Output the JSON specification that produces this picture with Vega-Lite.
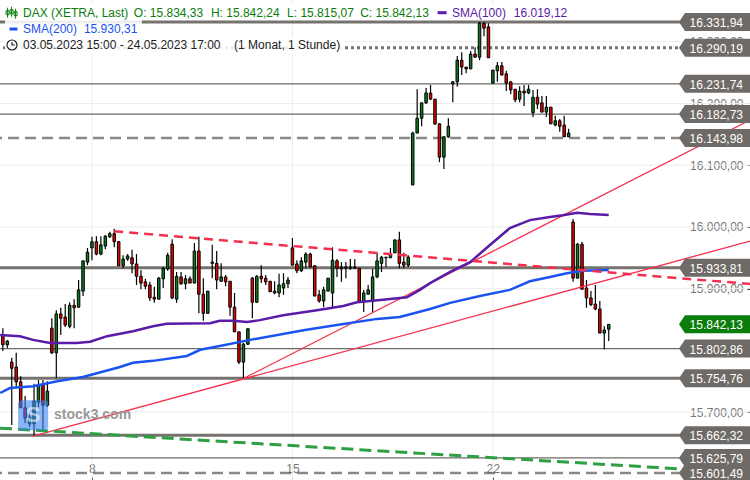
{
"$schema":"https://vega.github.io/schema/vega-lite/v6.json",
"width":750,"height":480,"padding":0,"autosize":{"type":"none"},
"background":"white",
"config":{"view":{"stroke":null},"text":{"font":"Liberation Sans","fontSize":12},"axis":{"labelFont":"Liberation Sans"}},
"data":{"values":[{}]},
"datasets":{
"grid":[{"g":15700},{"g":15900},{"g":16000},{"g":16100},{"g":16200},{"g":16300}],
"days":[{"d":21},{"d":66},{"d":111}],
"levels":[
{"level":16331.94,"label":"16.331,94","kind":"heavy"},
{"level":16290.19,"label":"16.290,19","kind":"dotted"},
{"level":16231.74,"label":"16.231,74","kind":"thin"},
{"level":16182.73,"label":"16.182,73","kind":"thin"},
{"level":16143.98,"label":"16.143,98","kind":"dashed"},
{"level":15933.81,"label":"15.933,81","kind":"heavy"},
{"level":15842.13,"label":"15.842,13","kind":"last"},
{"level":15802.86,"label":"15.802,86","kind":"thin"},
{"level":15754.76,"label":"15.754,76","kind":"heavy"},
{"level":15662.32,"label":"15.662,32","kind":"heavy"},
{"level":15625.79,"label":"15.625,79","kind":"thin"},
{"level":15601.49,"label":"15.601,49","kind":"dashed"}],
"candles":[
{"t":1,"open":15825,"high":15836,"low":15799,"close":15809},
{"t":2,"open":15809,"high":15817,"low":15804,"close":15815},
{"t":3,"open":15781,"high":15788,"low":15679,"close":15771},
{"t":4,"open":15773,"high":15796,"low":15741,"close":15749},
{"t":5,"open":15749,"high":15758,"low":15707,"close":15707},
{"t":6,"open":15707,"high":15726,"low":15682,"close":15690},
{"t":7,"open":15681,"high":15700,"low":15676,"close":15692},
{"t":8,"open":15681,"high":15746,"low":15661,"close":15718},
{"t":9,"open":15716,"high":15752,"low":15708,"close":15744},
{"t":10,"open":15744,"high":15752,"low":15671,"close":15711},
{"t":11,"open":15711,"high":15750,"low":15708,"close":15734},
{"t":12,"open":15836,"high":15852,"low":15794,"close":15796},
{"t":13,"open":15796,"high":15865,"low":15755,"close":15859},
{"t":14,"open":15859,"high":15869,"low":15825,"close":15852},
{"t":15,"open":15854,"high":15875,"low":15838,"close":15841},
{"t":16,"open":15839,"high":15878,"low":15836,"close":15873},
{"t":17,"open":15873,"high":15883,"low":15836,"close":15869},
{"t":18,"open":15870,"high":15914,"low":15869,"close":15898},
{"t":19,"open":15896,"high":15945,"low":15888,"close":15945},
{"t":20,"open":15943,"high":15966,"low":15938,"close":15959},
{"t":21,"open":15966,"high":15984,"low":15946,"close":15976},
{"t":22,"open":15976,"high":15985,"low":15954,"close":15956},
{"t":23,"open":15956,"high":15985,"low":15954,"close":15971},
{"t":24,"open":15969,"high":15987,"low":15964,"close":15985},
{"t":25,"open":15984,"high":15992,"low":15982,"close":15989},
{"t":26,"open":15989,"high":15997,"low":15967,"close":15976},
{"t":27,"open":15976,"high":15977,"low":15937,"close":15937},
{"t":28,"open":15937,"high":15954,"low":15933,"close":15948},
{"t":29,"open":15948,"high":15956,"low":15945,"close":15953},
{"t":30,"open":15950,"high":15963,"low":15925,"close":15940},
{"t":31,"open":15940,"high":15956,"low":15906,"close":15920},
{"t":32,"open":15920,"high":15930,"low":15899,"close":15909},
{"t":33,"open":15911,"high":15916,"low":15899,"close":15904},
{"t":34,"open":15906,"high":15911,"low":15880,"close":15885},
{"t":35,"open":15886,"high":15903,"low":15877,"close":15883},
{"t":36,"open":15883,"high":15919,"low":15883,"close":15917},
{"t":37,"open":15916,"high":15935,"low":15901,"close":15933},
{"t":38,"open":15932,"high":15958,"low":15929,"close":15954},
{"t":39,"open":15972,"high":15980,"low":15883,"close":15885},
{"t":40,"open":15883,"high":15927,"low":15877,"close":15920},
{"t":41,"open":15919,"high":15927,"low":15906,"close":15908},
{"t":42,"open":15908,"high":15922,"low":15899,"close":15916},
{"t":43,"open":15916,"high":15920,"low":15909,"close":15909},
{"t":44,"open":15909,"high":15974,"low":15909,"close":15961},
{"t":45,"open":15961,"high":15984,"low":15860,"close":15891},
{"t":46,"open":15891,"high":15917,"low":15848,"close":15860},
{"t":47,"open":15860,"high":15896,"low":15860,"close":15896},
{"t":48,"open":15941,"high":15971,"low":15917,"close":15943},
{"t":49,"open":15941,"high":15961,"low":15899,"close":15914},
{"t":50,"open":15912,"high":15941,"low":15911,"close":15919},
{"t":51,"open":15919,"high":15922,"low":15904,"close":15911},
{"t":52,"open":15912,"high":15912,"low":15856,"close":15870},
{"t":53,"open":15870,"high":15893,"low":15830,"close":15830},
{"t":54,"open":15830,"high":15830,"low":15778,"close":15781},
{"t":55,"open":15781,"high":15812,"low":15755,"close":15810},
{"t":56,"open":15810,"high":15836,"low":15809,"close":15835},
{"t":57,"open":15917,"high":15919,"low":15852,"close":15878},
{"t":58,"open":15878,"high":15922,"low":15877,"close":15920},
{"t":59,"open":15920,"high":15938,"low":15909,"close":15916},
{"t":60,"open":15917,"high":15922,"low":15906,"close":15911},
{"t":61,"open":15912,"high":15912,"low":15895,"close":15895},
{"t":62,"open":15896,"high":15912,"low":15891,"close":15893},
{"t":63,"open":15893,"high":15924,"low":15886,"close":15906},
{"t":64,"open":15901,"high":15925,"low":15890,"close":15908},
{"t":65,"open":15908,"high":15919,"low":15901,"close":15914},
{"t":66,"open":15966,"high":15982,"low":15938,"close":15938},
{"t":67,"open":15940,"high":15946,"low":15925,"close":15929},
{"t":68,"open":15929,"high":15951,"low":15927,"close":15945},
{"t":69,"open":15943,"high":15959,"low":15933,"close":15956},
{"t":70,"open":15956,"high":15958,"low":15935,"close":15935},
{"t":71,"open":15937,"high":15938,"low":15888,"close":15888},
{"t":72,"open":15890,"high":15898,"low":15877,"close":15880},
{"t":73,"open":15880,"high":15903,"low":15870,"close":15898},
{"t":74,"open":15896,"high":15917,"low":15896,"close":15917},
{"t":75,"open":15893,"high":15967,"low":15869,"close":15946},
{"t":76,"open":15945,"high":15948,"low":15919,"close":15933},
{"t":77,"open":15935,"high":15943,"low":15911,"close":15932},
{"t":78,"open":15933,"high":15943,"low":15917,"close":15935},
{"t":79,"open":15933,"high":15948,"low":15930,"close":15935},
{"t":80,"open":15935,"high":15948,"low":15932,"close":15933},
{"t":81,"open":15933,"high":15933,"low":15877,"close":15878},
{"t":82,"open":15878,"high":15898,"low":15862,"close":15893},
{"t":83,"open":15891,"high":15906,"low":15891,"close":15898},
{"t":84,"open":15880,"high":15932,"low":15862,"close":15919},
{"t":85,"open":15919,"high":15958,"low":15917,"close":15945},
{"t":86,"open":15941,"high":15953,"low":15927,"close":15951},
{"t":87,"open":15950,"high":15951,"low":15935,"close":15951},
{"t":88,"open":15950,"high":15966,"low":15950,"close":15956},
{"t":89,"open":15958,"high":15979,"low":15958,"close":15979},
{"t":90,"open":15979,"high":15992,"low":15933,"close":15941},
{"t":91,"open":15943,"high":15958,"low":15933,"close":15938},
{"t":92,"open":15938,"high":15954,"low":15935,"close":15951},
{"t":93,"open":16068,"high":16154,"low":16068,"close":16152},
{"t":94,"open":16152,"high":16223,"low":16152,"close":16176},
{"t":95,"open":16176,"high":16201,"low":16163,"close":16201},
{"t":96,"open":16201,"high":16225,"low":16199,"close":16217},
{"t":97,"open":16217,"high":16230,"low":16206,"close":16207},
{"t":98,"open":16207,"high":16207,"low":16165,"close":16167},
{"t":99,"open":16167,"high":16168,"low":16105,"close":16113},
{"t":100,"open":16113,"high":16146,"low":16094,"close":16146},
{"t":101,"open":16146,"high":16176,"low":16144,"close":16163},
{"t":102,"open":16232,"high":16236,"low":16202,"close":16235},
{"t":103,"open":16235,"high":16277,"low":16227,"close":16270},
{"t":104,"open":16270,"high":16283,"low":16246,"close":16259},
{"t":105,"open":16259,"high":16259,"low":16249,"close":16256},
{"t":106,"open":16256,"high":16285,"low":16256,"close":16280},
{"t":107,"open":16280,"high":16291,"low":16274,"close":16275},
{"t":108,"open":16275,"high":16332,"low":16270,"close":16330},
{"t":109,"open":16330,"high":16332,"low":16309,"close":16322},
{"t":110,"open":16324,"high":16330,"low":16274,"close":16274},
{"t":111,"open":16233,"high":16254,"low":16232,"close":16254},
{"t":112,"open":16253,"high":16267,"low":16235,"close":16261},
{"t":113,"open":16261,"high":16267,"low":16246,"close":16246},
{"t":114,"open":16248,"high":16253,"low":16220,"close":16233},
{"t":115,"open":16235,"high":16235,"low":16215,"close":16222},
{"t":116,"open":16223,"high":16223,"low":16202,"close":16206},
{"t":117,"open":16207,"high":16228,"low":16202,"close":16220},
{"t":118,"open":16220,"high":16230,"low":16196,"close":16217},
{"t":119,"open":16217,"high":16230,"low":16215,"close":16223},
{"t":120,"open":16185,"high":16222,"low":16178,"close":16210},
{"t":121,"open":16210,"high":16223,"low":16191,"close":16199},
{"t":122,"open":16201,"high":16212,"low":16186,"close":16186},
{"t":123,"open":16186,"high":16212,"low":16178,"close":16194},
{"t":124,"open":16194,"high":16194,"low":16167,"close":16167},
{"t":125,"open":16165,"high":16180,"low":16163,"close":16172},
{"t":126,"open":16172,"high":16175,"low":16154,"close":16163},
{"t":127,"open":16165,"high":16180,"low":16146,"close":16146},
{"t":128,"open":16146,"high":16159,"low":16146,"close":16152},
{"t":129,"open":16008,"high":16013,"low":15911,"close":15917},
{"t":130,"open":15917,"high":15974,"low":15917,"close":15972},
{"t":131,"open":15972,"high":15976,"low":15899,"close":15899},
{"t":132,"open":15901,"high":15914,"low":15869,"close":15885},
{"t":133,"open":15885,"high":15896,"low":15872,"close":15874},
{"t":134,"open":15875,"high":15906,"low":15865,"close":15867},
{"t":135,"open":15867,"high":15880,"low":15828,"close":15828},
{"t":136,"open":15828,"high":15839,"low":15802,"close":15833},
{"t":137,"open":15834.33,"high":15842.24,"low":15815.07,"close":15842.13}],
"sma100":[
{"t":0.4,"v":15825},{"t":4.85,"v":15823},{"t":7.8,"v":15817},{"t":11.6,"v":15812},{"t":17.6,"v":15812},{"t":20.6,"v":15814},{"t":24.4,"v":15823},{"t":30.2,"v":15831},{"t":34.7,"v":15839},{"t":37.8,"v":15843},{"t":47.5,"v":15844},{"t":49.7,"v":15848},{"t":52.7,"v":15848},{"t":55.8,"v":15846},{"t":58.7,"v":15849},{"t":63.9,"v":15857},{"t":71.5,"v":15865},{"t":77.4,"v":15872},{"t":80.5,"v":15878},{"t":86.3,"v":15882},{"t":91.7,"v":15886},{"t":94.6,"v":15898},{"t":96.9,"v":15909},{"t":101.4,"v":15927},{"t":105.9,"v":15943},{"t":110.4,"v":15971},{"t":114.8,"v":15998},{"t":119.3,"v":16011},{"t":123.8,"v":16016},{"t":126.7,"v":16019},{"t":129.9,"v":16023},{"t":132.8,"v":16021},{"t":137,"v":16019.12}],
"sma200":[
{"t":0.4,"v":15731},{"t":2.6,"v":15739},{"t":7.8,"v":15742},{"t":13.2,"v":15750},{"t":19,"v":15757},{"t":27.3,"v":15773},{"t":30.2,"v":15780},{"t":34.7,"v":15783},{"t":42.3,"v":15791},{"t":45.3,"v":15801},{"t":49.7,"v":15807},{"t":56.5,"v":15817},{"t":68.8,"v":15833},{"t":76,"v":15841},{"t":85,"v":15851},{"t":90.1,"v":15854},{"t":96.9,"v":15867},{"t":101.4,"v":15877},{"t":108.1,"v":15888},{"t":114.8,"v":15898},{"t":119.3,"v":15912},{"t":123.8,"v":15919},{"t":127.6,"v":15925},{"t":131.2,"v":15929},{"t":137,"v":15930.31}],
"trends":[
{"line":"support1","t":7.8,"v":15661},{"line":"support1","t":168.71,"v":15977},
{"line":"support2","t":54.9,"v":15754},{"line":"support2","t":168.71,"v":16173},
{"line":"resistance","t":26,"v":15993},{"line":"resistance","t":168.71,"v":15907.5},
{"line":"longterm","t":0.36,"v":15674},{"line":"longterm","t":153,"v":15608}],
"boxes":[
{"t1":1.48,"t2":128.3,"v1":16361,"v2":16335},
{"t1":1.48,"t2":32.2,"v1":16335,"v2":16307.7},
{"t1":1.48,"t2":77.8,"v1":16307.7,"v2":16281.7}]
},
"layer":[
{"data":{"name":"grid"},"mark":{"type":"rule","color":"#ececec","strokeWidth":1},
 "encoding":{"y":{"field":"g","type":"quantitative","title":null,
  "scale":{"domain":[15590,16367.6],"nice":false,"zero":false},
  "axis":{"orient":"left","offset":-750,"domain":false,"grid":false,"title":null,"values":[15700,15800,15900,16000,16100,16200,16300],"tickColor":"#000","tickSize":3,"labelPadding":4,"labelColor":"#777","labelFontSize":12,"labelExpr":"replace(replace(replace(format(datum.value,',.2f'),'.',';'),',','.'),';',',')"}}}},
{"data":{"name":"days"},"mark":{"type":"rule","color":"#ececec","strokeWidth":1},
 "encoding":{"x":{"field":"d","type":"quantitative","title":null,
  "scale":{"domain":[0.36,168.71],"nice":false,"zero":false,"padding":0},
  "axis":{"orient":"top","offset":-480,"domain":false,"grid":false,"title":null,"values":[21,66,111],"tickColor":"#000","tickSize":3,"labelPadding":2,"labelColor":"#777","labelFontSize":12,"labelAngle":0,"labelExpr":"datum.value==21?'8':datum.value==66?'15':'22'"}}}},
{"data":{"name":"levels"},"transform":[{"filter":"datum.kind!=='last'"}],"mark":{"type":"rule","color":"#6e6a67"},
 "encoding":{"y":{"field":"level","type":"quantitative"},
  "strokeWidth":{"field":"kind","type":"nominal","legend":null,"scale":{"type":"ordinal","domain":["heavy","dotted","thin","dashed"],"range":[3,3,1.1,2.5]}},
  "strokeDash":{"field":"kind","type":"nominal","legend":null,"scale":{"domain":["heavy","dotted","thin","dashed"],"range":[[1,0],[3,3],[1,0],[11,6]]}},
  "opacity":{"field":"kind","type":"nominal","legend":null,"scale":{"type":"ordinal","domain":["heavy","dotted","thin","dashed"],"range":[0.95,0.95,1,0.8]}}}},
{"data":{"name":"candles"},"mark":{"type":"rule","color":"#000","strokeWidth":1.2},
 "encoding":{"x":{"field":"t","type":"quantitative"},"y":{"field":"low","type":"quantitative"},"y2":{"field":"high"}}},
{"data":{"name":"candles"},"mark":{"type":"bar","size":2.5,"stroke":"#000","strokeWidth":1},
 "encoding":{"x":{"field":"t","type":"quantitative"},"y":{"field":"open","type":"quantitative"},"y2":{"field":"close"},
  "color":{"condition":{"test":"datum.close>=datum.open","value":"#0b7a1c"},"value":"#e60000"}}},
{"data":{"name":"trends"},"transform":[{"filter":"datum.line==='support1'||datum.line==='support2'"}],"mark":{"type":"line","color":"#f5304f","strokeWidth":1.3},
 "encoding":{"x":{"field":"t","type":"quantitative"},"y":{"field":"v","type":"quantitative"},"detail":{"field":"line"}}},
{"data":{"name":"sma200"},"mark":{"type":"line","color":"#1a53f0","strokeWidth":2.5},
 "encoding":{"x":{"field":"t","type":"quantitative"},"y":{"field":"v","type":"quantitative"}}},
{"data":{"name":"sma100"},"mark":{"type":"line","color":"#5a1ba8","strokeWidth":2.5},
 "encoding":{"x":{"field":"t","type":"quantitative"},"y":{"field":"v","type":"quantitative"}}},
{"data":{"name":"trends"},"transform":[{"filter":"datum.line==='resistance'"}],"mark":{"type":"line","color":"#f5304f","strokeWidth":2.5,"strokeDash":[9,6]},
 "encoding":{"x":{"field":"t","type":"quantitative"},"y":{"field":"v","type":"quantitative"}}},
{"data":{"name":"trends"},"transform":[{"filter":"datum.line==='longterm'"}],"mark":{"type":"line","color":"#2ea043","strokeWidth":3,"strokeDash":[12,6]},
 "encoding":{"x":{"field":"t","type":"quantitative"},"y":{"field":"v","type":"quantitative"}}},
{"mark":{"type":"point","filled":true,"shape":"M-15,-11Q-15,-15,-11,-15H11Q15,-15,15,-11V11Q15,15,11,15H-11Q-15,15,-15,11Z","size":4,"color":"#3b82f0","opacity":0.6},
 "encoding":{"x":{"datum":7.8},"y":{"datum":15695}}},
{"mark":{"type":"text","align":"center","color":"#ffffff","opacity":0.55,"fontSize":22,"fontWeight":"bold"},
 "encoding":{"x":{"datum":7.8},"y":{"datum":15695},"text":{"value":"S"}}},
{"mark":{"type":"text","align":"left","color":"#999999","fontSize":14,"fontWeight":"bold"},
 "encoding":{"x":{"datum":12.5},"y":{"datum":15695},"text":{"value":"stock3.com"}}},
{"data":{"name":"levels"},"mark":{"type":"point","filled":true,"opacity":1,"size":4,"shape":"M-71,0L-65,-9L0,-9L0,9L-65,9Z"},
 "encoding":{"x":{"datum":168.71},"y":{"field":"level","type":"quantitative"},
  "color":{"condition":{"test":"datum.kind==='last'","value":"#0a7d0a"},"value":"#6e6a67"}}},
{"data":{"name":"levels"},"mark":{"type":"text","align":"right","dx":-7,"dy":1,"color":"#ffffff","fontSize":12},
 "encoding":{"x":{"datum":168.71},"y":{"field":"level","type":"quantitative"},"text":{"field":"label"}}},
{"data":{"name":"boxes"},"mark":{"type":"rect","color":"#ffffff","opacity":0.88},
 "encoding":{"x":{"field":"t1","type":"quantitative"},"x2":{"field":"t2"},"y":{"field":"v1","type":"quantitative"},"y2":{"field":"v2"}}},
{"mark":{"type":"point","filled":false,"opacity":1,"size":4,"color":"#0a7d0a","strokeWidth":1,"shape":"M-4,-5V5M-5.5,-2H-2.5V2H-5.5ZM0,-6V4M-1.5,-3H1.5V1H-1.5ZM4,-4V6M2.5,-1H5.5V3H2.5Z"},
 "encoding":{"x":{"datum":2.96},"y":{"datum":16347}}},
{"mark":{"type":"point","filled":true,"opacity":1,"size":4,"color":"#5a1ba8","shape":"M-4.5,-1.5H4.5V1.5H-4.5Z"},
 "encoding":{"x":{"datum":99.6},"y":{"datum":16347}}},
{"mark":{"type":"point","filled":true,"opacity":1,"size":4,"color":"#1a53f0","shape":"M-4,-1.5H4V1.5H-4Z"},
 "encoding":{"x":{"datum":3.39},"y":{"datum":16320.6}}},
{"mark":{"type":"point","filled":false,"opacity":1,"size":4,"color":"#222222","strokeWidth":1.2,"shape":"M-5,0A5,5,0,1,1,5,0A5,5,0,1,1,-5,0ZM0,-3V0H3"},
 "encoding":{"x":{"datum":3.05},"y":{"datum":16294.7}}},
{"mark":{"type":"text","align":"left","color":"#0a7d0a"},"encoding":{"x":{"datum":5.52},"y":{"datum":16347},"text":{"value":"DAX (XETRA, Last)"}}},
{"mark":{"type":"text","align":"left","color":"#0a7d0a"},"encoding":{"x":{"datum":30.4},"y":{"datum":16347},"text":{"value":"O: 15.834,33"}}},
{"mark":{"type":"text","align":"left","color":"#0a7d0a"},"encoding":{"x":{"datum":47.7},"y":{"datum":16347},"text":{"value":"H: 15.842,24"}}},
{"mark":{"type":"text","align":"left","color":"#0a7d0a"},"encoding":{"x":{"datum":64.8},"y":{"datum":16347},"text":{"value":"L: 15.815,07"}}},
{"mark":{"type":"text","align":"left","color":"#0a7d0a"},"encoding":{"x":{"datum":81.2},"y":{"datum":16347},"text":{"value":"C: 15.842,13"}}},
{"mark":{"type":"text","align":"left","color":"#5a1ba8"},"encoding":{"x":{"datum":101.8},"y":{"datum":16347},"text":{"value":"SMA(100)"}}},
{"mark":{"type":"text","align":"left","color":"#5a1ba8"},"encoding":{"x":{"datum":115.7},"y":{"datum":16347},"text":{"value":"16.019,12"}}},
{"mark":{"type":"text","align":"left","color":"#1a53f0"},"encoding":{"x":{"datum":5.52},"y":{"datum":16320.6},"text":{"value":"SMA(200)"}}},
{"mark":{"type":"text","align":"left","color":"#1a53f0"},"encoding":{"x":{"datum":19.2},"y":{"datum":16320.6},"text":{"value":"15.930,31"}}},
{"mark":{"type":"text","align":"left","color":"#222222"},"encoding":{"x":{"datum":5.52},"y":{"datum":16294.7},"text":{"value":"03.05.2023 15:00 - 24.05.2023 17:00"}}},
{"mark":{"type":"text","align":"left","color":"#222222"},"encoding":{"x":{"datum":52.9},"y":{"datum":16294.7},"text":{"value":"(1 Monat, 1 Stunde)"}}}
]
}
